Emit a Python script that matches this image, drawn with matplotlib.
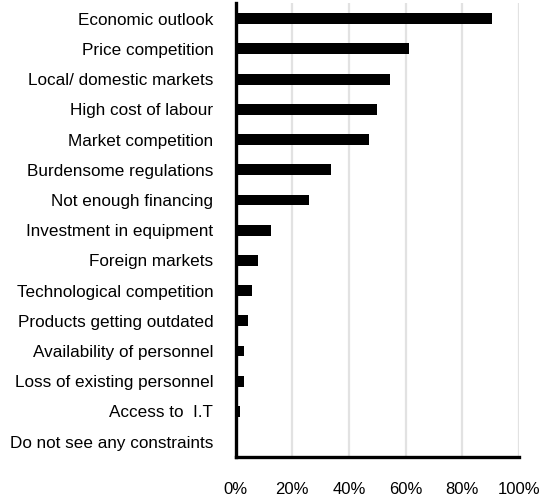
import matplotlib
matplotlib.use("Agg")
import matplotlib.pyplot as plt
from matplotlib.ticker import FuncFormatter

plt.rcParams['font.family'] = ['Liberation Sans', 'DejaVu Sans']

# share of respondents naming each constraint (top to bottom)
constraints = [
    'Economic outlook', 'Price competition', 'Local/ domestic markets',
    'High cost of labour', 'Market competition', 'Burdensome regulations',
    'Not enough financing', 'Investment in equipment', 'Foreign markets',
    'Technological competition', 'Products getting outdated',
    'Availability of personnel', 'Loss of existing personnel',
    'Access to  I.T', 'Do not see any constraints',
]
shares = [90.3, 61.1, 54.4, 49.8, 47.2, 33.8, 25.8, 12.4, 7.8,
          5.7, 4.4, 3.0, 3.0, 1.6, 0.9]
xticks = [0, 20, 40, 60, 80, 100]

fig = plt.figure(figsize=(5.41, 4.99), dpi=100)
ax = fig.add_axes([235.5 / 541, 1 - 457.3 / 499, (519 - 235.5) / 541, (457.3 - 3) / 499])

pos = list(range(len(constraints)))
ax.barh(pos, shares, height=0.36, color='black', zorder=3)

ax.set_ylim(len(constraints) - 0.48, -0.52)
ax.set_xlim(0, 100)
ax.set_yticks(pos)
ax.set_yticklabels(constraints, fontsize=12.3)
ax.set_xticks(xticks)
ax.xaxis.set_major_formatter(FuncFormatter(lambda v, _: f'{v:.0f}%'))
ax.tick_params(axis='x', length=0, pad=18, labelsize=12)
ax.tick_params(axis='y', length=0, pad=16)

ax.grid(axis='x', color='#e2e2e2', linewidth=1.6, zorder=0)
ax.set_axisbelow(True)
for side in ('top', 'right'):
    ax.spines[side].set_visible(False)
for side in ('left', 'bottom'):
    ax.spines[side].set_linewidth(2.4)
    ax.spines[side].set_zorder(4)

fig.savefig('out.png', dpi=100)
